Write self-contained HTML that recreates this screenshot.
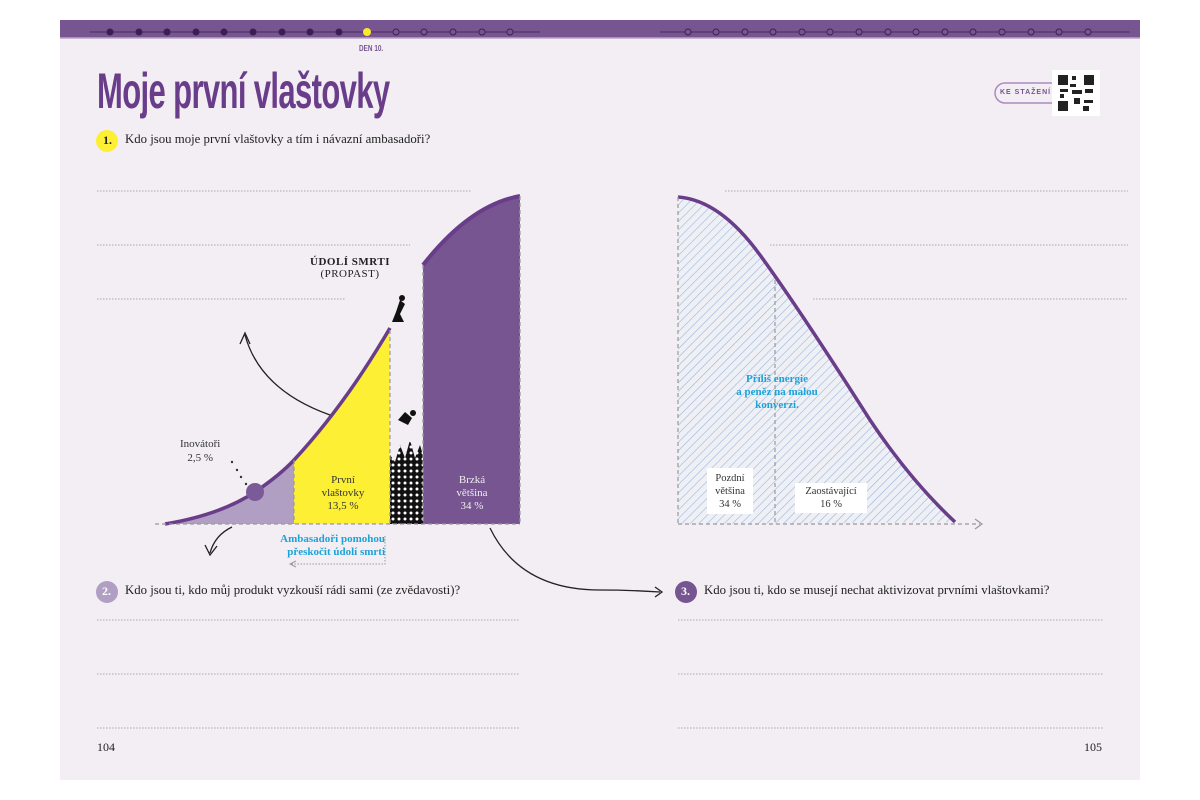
<!DOCTYPE html>
<html><head><meta charset="utf-8"><style>
body{margin:0;width:1200px;height:800px;background:#fff;font-family:"Liberation Serif",serif;overflow:hidden}
.t{position:absolute;white-space:nowrap}
</style></head><body>
<svg width="1200" height="800" style="position:absolute;left:0;top:0">
<defs>
<pattern id="dots" width="6" height="6" patternUnits="userSpaceOnUse"><rect width="6" height="6" fill="#111"/><circle cx="3" cy="3" r="1.5" fill="#fff"/></pattern>
<pattern id="hatch" width="6" height="6" patternUnits="userSpaceOnUse" patternTransform="rotate(45)"><rect width="6" height="6" fill="#eef0f5"/><line x1="0" y1="0" x2="0" y2="6" stroke="#9cb6d8" stroke-width="1.2"/></pattern>
</defs>
<rect x="60" y="20" width="1080" height="760" fill="#f2eef3"/>
<rect x="60" y="20" width="1080" height="18" fill="#775590"/>
<line x1="60" y1="38" x2="1140" y2="38" stroke="#b9a4c8" stroke-width="1.5"/>
<line x1="90" y1="32" x2="540" y2="32" stroke="#4a2a5f" stroke-width="1"/>
<line x1="660" y1="32" x2="1130" y2="32" stroke="#4a2a5f" stroke-width="1"/>
<g fill="#3a1f50">
<circle cx="110" cy="32" r="3.5"/><circle cx="139" cy="32" r="3.5"/><circle cx="167" cy="32" r="3.5"/><circle cx="196" cy="32" r="3.5"/><circle cx="224" cy="32" r="3.5"/><circle cx="253" cy="32" r="3.5"/><circle cx="282" cy="32" r="3.5"/><circle cx="310" cy="32" r="3.5"/><circle cx="339" cy="32" r="3.5"/></g>
<circle cx="367" cy="32" r="4" fill="#f7ea2a"/>
<g fill="#775590" stroke="#3a1f50" stroke-width="0.9">
<circle cx="396" cy="32" r="3"/><circle cx="424" cy="32" r="3"/><circle cx="453" cy="32" r="3"/><circle cx="482" cy="32" r="3"/><circle cx="510" cy="32" r="3"/>
<circle cx="688" cy="32" r="3"/><circle cx="716" cy="32" r="3"/><circle cx="745" cy="32" r="3"/><circle cx="773" cy="32" r="3"/><circle cx="802" cy="32" r="3"/><circle cx="830" cy="32" r="3"/><circle cx="859" cy="32" r="3"/><circle cx="888" cy="32" r="3"/><circle cx="916" cy="32" r="3"/><circle cx="945" cy="32" r="3"/><circle cx="973" cy="32" r="3"/><circle cx="1002" cy="32" r="3"/><circle cx="1031" cy="32" r="3"/><circle cx="1059" cy="32" r="3"/><circle cx="1088" cy="32" r="3"/></g>
<path d="M1060 83 H1005 a10 10 0 0 0 0 20 H1060" fill="none" stroke="#a98cc0" stroke-width="1.5"/>
<rect x="1052" y="70" width="48" height="46" fill="#fff"/>
<g fill="#222"><rect x="1058" y="75" width="10" height="10"/><rect x="1084" y="75" width="10" height="10"/><rect x="1058" y="101" width="10" height="10"/>
<rect x="1072" y="76" width="4" height="4"/><rect x="1070" y="84" width="6" height="3"/><rect x="1060" y="89" width="8" height="3"/><rect x="1072" y="90" width="10" height="4"/><rect x="1085" y="89" width="8" height="4"/><rect x="1074" y="98" width="6" height="6"/><rect x="1084" y="100" width="9" height="3"/><rect x="1083" y="106" width="6" height="5"/><rect x="1060" y="94" width="4" height="4"/></g>
<g stroke="#aaa" stroke-width="1" stroke-dasharray="1.5,1.5">
<line x1="97" y1="191" x2="472" y2="191"/><line x1="97" y1="245" x2="410" y2="245"/><line x1="97" y1="299" x2="345" y2="299"/>
<line x1="725" y1="191" x2="1128" y2="191"/><line x1="770" y1="245" x2="1128" y2="245"/><line x1="813" y1="299" x2="1128" y2="299"/>
<line x1="97" y1="620" x2="520" y2="620"/><line x1="97" y1="674" x2="520" y2="674"/><line x1="97" y1="728" x2="520" y2="728"/>
<line x1="678" y1="620" x2="1103" y2="620"/><line x1="678" y1="674" x2="1103" y2="674"/><line x1="678" y1="728" x2="1103" y2="728"/>
</g>
<path d="M165 524 Q220 515 255 492 Q280 475 294 460 L294 524 Z" fill="#b09fc3"/>
<path d="M294 460 Q345 405 390 328 L390 524 L294 524 Z" fill="#fdef33"/>
<path d="M390 524 L390 455 L395 462 L400 445 L405 458 L410 440 L415 458 L420 445 L423 455 L423 524 Z" fill="url(#dots)"/>
<path d="M423 265 Q470 205 520 196 L520 524 L423 524 Z" fill="#775590"/>
<path d="M165 524 Q220 515 255 492 Q280 475 294 460 Q345 405 390 328" fill="none" stroke="#6a3d8a" stroke-width="3.5"/>
<path d="M423 265 Q470 205 520 196" fill="none" stroke="#6a3d8a" stroke-width="4"/>
<g stroke="#999" stroke-width="1.2" stroke-dasharray="4,3" fill="none">
<line x1="155" y1="524" x2="520" y2="524"/><line x1="294" y1="460" x2="294" y2="524"/><line x1="390" y1="330" x2="390" y2="524"/><line x1="423" y1="265" x2="423" y2="524"/><line x1="520" y1="196" x2="520" y2="524"/></g>
<circle cx="255" cy="492" r="9" fill="#7a5a99"/>
<g fill="#333"><circle cx="232" cy="462" r="1.2"/><circle cx="237" cy="470" r="1.2"/><circle cx="241" cy="477" r="1.2"/><circle cx="246" cy="484" r="1.2"/></g>
<path d="M330 415 Q260 390 245 335" fill="none" stroke="#222" stroke-width="1.3"/>
<path d="M240 344 L245 333 L250 344" fill="none" stroke="#222" stroke-width="1.3"/>
<path d="M232 527 Q215 535 210 553" fill="none" stroke="#222" stroke-width="1.3"/>
<path d="M205 545 L210 555 L217 546" fill="none" stroke="#222" stroke-width="1.3"/>
<path d="M490 528 Q520 590 600 590 Q630 590 660 592" fill="none" stroke="#222" stroke-width="1.3"/>
<path d="M655 587 L662 592 L655 597" fill="none" stroke="#222" stroke-width="1.3"/>
<path d="M385 536 V564 H290" fill="none" stroke="#999" stroke-width="1" stroke-dasharray="1.5,1.5"/>
<path d="M296 561 L290 564 L296 567" fill="none" stroke="#999" stroke-width="1"/>
<path d="M392 322 L396 312 L400 300 L405 304 L400 314 L404 322 Z" fill="#111"/><circle cx="402" cy="298" r="3" fill="#111"/>
<path d="M398 420 L405 412 L412 418 L408 425 Z" fill="#111"/><circle cx="413" cy="413" r="3" fill="#111"/>
<path d="M678 197 Q720 200 760 255 Q800 310 870 420 Q910 480 955 522 L678 524 Z" fill="url(#hatch)"/>
<path d="M678 197 Q720 200 760 255 Q800 310 870 420 Q910 480 955 522" fill="none" stroke="#6a3d8a" stroke-width="3.5"/>
<g stroke="#999" stroke-width="1.2" stroke-dasharray="4,3" fill="none">
<line x1="678" y1="524" x2="980" y2="524"/><line x1="678" y1="197" x2="678" y2="524"/><line x1="775" y1="280" x2="775" y2="524"/></g>
<path d="M975 519 L982 524 L975 529" fill="none" stroke="#999" stroke-width="1.2"/>
<rect x="707" y="468" width="46" height="46" fill="#fff"/>
<rect x="795" y="483" width="72" height="30" fill="#fff"/>
<circle cx="107" cy="141" r="11" fill="#fdef33"/>
<circle cx="107" cy="592" r="11" fill="#b09fc3"/>
<circle cx="686" cy="592" r="11" fill="#775590"/>
</svg>
<div class="t" style="left:356px;top:44px;font:bold 8px 'Liberation Sans',sans-serif;color:#775590;transform:scaleX(.8)">DEN 10.</div>
<div class="t" style="left:97px;top:62px;font:bold 50px 'Liberation Sans',sans-serif;color:#6a3d8a;letter-spacing:-1px;transform:scaleX(.62);transform-origin:left">Moje první vlaštovky</div>
<div class="t" style="left:1000px;top:89px;font:bold 7px 'Liberation Sans',sans-serif;color:#775590;letter-spacing:1px">KE STAŽENÍ</div>
<div class="t" style="left:103px;top:133px;font:bold 12px serif;color:#222">1.</div>
<div class="t" style="left:125px;top:132px;font-size:12.8px;color:#222">Kdo jsou moje první vlaštovky a tím i návazní ambasadoři?</div>
<div class="t" style="left:102px;top:584px;font:bold 12px serif;color:#fff">2.</div>
<div class="t" style="left:125px;top:583px;font-size:12.8px;color:#222">Kdo jsou ti, kdo můj produkt vyzkouší rádi sami (ze zvědavosti)?</div>
<div class="t" style="left:681px;top:584px;font:bold 12px serif;color:#fff">3.</div>
<div class="t" style="left:704px;top:583px;font-size:12.8px;color:#222">Kdo jsou ti, kdo se musejí nechat aktivizovat prvními vlaštovkami?</div>
<div class="t" style="left:310px;top:256px;font:bold 11px serif;color:#222;text-align:center;letter-spacing:.5px">ÚDOLÍ SMRTI<br><span style="font-weight:normal">(PROPAST)</span></div>
<div class="t" style="left:180px;top:437px;font-size:11px;color:#333;text-align:center;line-height:14px">Inovátoři<br>2,5 %</div>
<div class="t" style="left:318px;top:474px;font-size:11px;color:#333;text-align:center;line-height:13px;width:50px">První<br>vlaštovky<br>13,5 %</div>
<div class="t" style="left:447px;top:474px;font-size:11px;color:#eee;text-align:center;line-height:13px;width:50px">Brzká<br>většina<br>34 %</div>
<div class="t" style="left:275px;top:533px;font:bold 11px serif;color:#1aa3d9;text-align:right;line-height:13px;width:110px">Ambasadoři pomohou<br>přeskočit údolí smrti</div>
<div class="t" style="left:722px;top:373px;font:bold 11px serif;color:#1aa3d9;text-align:center;line-height:13px;width:110px">Příliš energie<br>a peněz na malou<br>konverzi.</div>
<div class="t" style="left:707px;top:472px;font-size:10.5px;color:#333;text-align:center;line-height:13px;width:46px">Pozdní<br>většina<br>34 %</div>
<div class="t" style="left:795px;top:485px;font-size:10.5px;color:#333;text-align:center;line-height:13px;width:72px">Zaostávající<br>16 %</div>
<div class="t" style="left:97px;top:740px;font-size:12px;color:#222">104</div>
<div class="t" style="left:1084px;top:740px;font-size:12px;color:#222">105</div>
</body></html>
